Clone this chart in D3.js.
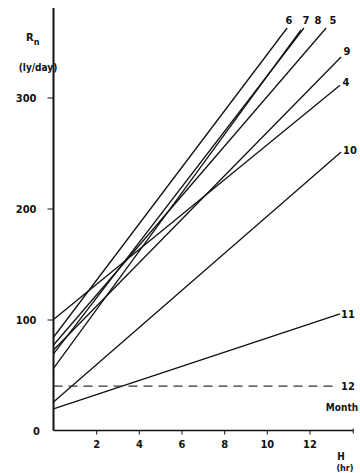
<!DOCTYPE html>
<html>
<head>
<meta charset="utf-8">
<script src="https://cdn.jsdelivr.net/npm/d3@7"></script>
<style>
  body { margin: 0; background: #fff; }
  svg text { font-family: "DejaVu Sans Condensed", "DejaVu Sans", sans-serif; font-size: 11px; fill: #111; font-weight: 600; }
</style>
</head>
<body>
<figure id="chart" style="margin:0"></figure>
<script>
// month lines: Rn from H = 0 up to the end point
const months = ["4", "5", "6", "7", "8", "9", "10", "11"];
const rStart = [100, 77, 84, 56, 69, 72.5, 25.7, 19.4];
const hEnd = [13.43, 12.78, 10.95, 11.6, 11.74, 13.48, 13.48, 13.43];
const rEnd = [311, 362.6, 362.6, 361, 362.6, 336.5, 251, 105];

// month 12 is flat (dashed)
const flatMonth = "12";
const flatValue = 40;
const flatEnd = 13.3;

const xTicks = [2, 4, 6, 8, 10, 12];
const yTicks = [0, 100, 200, 300];

const width = 360, height = 473;

const svg = d3.select("figure#chart")
  .append("svg")
  .attr("width", width)
  .attr("height", height);

const x = d3.scaleLinear().domain([0, 12]).range([53.5, 309.5]);
const y = d3.scaleLinear().domain([0, 300]).range([430.5, 97.5]);

// axes
const xAxis = svg.append("g")
  .attr("transform", "translate(0," + y(0) + ")")
  .call(d3.axisBottom(x).tickValues(xTicks).tickSize(4).tickPadding(6).tickSizeOuter(0));
xAxis.select(".domain").attr("d", "M" + x(0) + ",0H" + x(14.05)).attr("stroke-width", 1.6);
xAxis.append("line").attr("x1", x(14.05)).attr("x2", x(14.05)).attr("y1", -2).attr("y2", 3).attr("stroke", "#111");

const yAxis = svg.append("g")
  .attr("transform", "translate(" + x(0) + ",0)")
  .call(d3.axisLeft(y).tickValues(yTicks.slice(1)).tickSize(6).tickPadding(11).tickSizeOuter(0));
yAxis.select(".domain").attr("d", "M0," + y(0) + "V8").attr("stroke-width", 2);
svg.append("text").attr("x", 40).attr("y", y(0) + 4).attr("text-anchor", "end").text("0");

svg.selectAll(".domain, .tick line").attr("stroke", "#111");
svg.selectAll(".tick text").style("font-size", "11px").attr("fill", "#111");

// month lines
const lines = svg.append("g");
lines.selectAll("line")
  .data(months)
  .enter()
  .append("line")
  .attr("x1", x(0))
  .attr("y1", (d, i) => y(rStart[i]))
  .attr("x2", (d, i) => x(hEnd[i]))
  .attr("y2", (d, i) => y(rEnd[i]))
  .attr("stroke", "#111")
  .attr("stroke-width", 1.3);

lines.append("line")
  .attr("x1", x(0)).attr("y1", y(flatValue))
  .attr("x2", x(flatEnd)).attr("y2", y(flatValue))
  .attr("stroke", "#333")
  .attr("stroke-width", 1.3)
  .attr("stroke-dasharray", "9,6");

// month labels
const labelPos = {
  "4": [346, 82], "5": [333, 20], "6": [289, 20], "7": [306, 20], "8": [318, 20],
  "9": [347, 51], "10": [350, 150], "11": [348, 314]
};
svg.append("g").selectAll("text")
  .data(months)
  .enter()
  .append("text")
  .attr("x", d => labelPos[d][0])
  .attr("y", d => labelPos[d][1] + 4)
  .attr("text-anchor", "middle")
  .text(d => d);
svg.append("text").attr("x", 348).attr("y", 390).attr("text-anchor", "middle").text(flatMonth);

// axis titles
svg.append("text").attr("x", 342).attr("y", 411).attr("text-anchor", "middle").style("font-weight", "bold").style("font-size", "10px").text("Month");
svg.append("text").attr("x", 341).attr("y", 460).attr("text-anchor", "middle").style("font-size", "10px").text("H");
svg.append("text").attr("x", 345).attr("y", 471).attr("text-anchor", "middle").style("font-size", "9px").text("(hr)");

const rn = svg.append("text").attr("x", 26).attr("y", 41);
rn.append("tspan").text("R");
rn.append("tspan").attr("dy", 4).style("font-size", "9px").text("n");
svg.append("text").attr("x", 38).attr("y", 71).attr("text-anchor", "middle").style("font-size", "10px").text("(ly/day)");
</script>
</body>
</html>
